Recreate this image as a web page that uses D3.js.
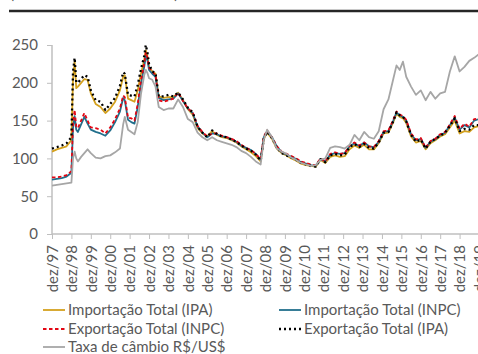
<!DOCTYPE html>
<html><head><meta charset="utf-8">
<script src="https://cdn.jsdelivr.net/npm/d3@7"></script>
<style>
html,body{margin:0;padding:0;background:#fff;overflow:hidden;}
svg{display:block;font-family:Lato, "Open Sans", sans-serif;}
</style></head>
<body>
<svg id="c" width="478" height="354"></svg>
<script>
// month index since Dec 1997
const months = [0,3,6,9,12,13,14,15,16,18,20,22,24,27,30,33,36,39,42,44,45,47,49,51,53,55,57,58,59,60,62,64,66,
  69,72,75,78,81,84,87,90,93,96,99,102,105,108,111,114,117,120,123,126,129,
  131,133,136,139,142,145,148,151,154,157,160,163,166,169,172,175,178,181,184,187,190,193,196,199,
  202,205,208,211,213,215,217,219,222,225,228,231,234,237,240,243,246,249,252,255,258,261,264];

const importacaoIPA = [109,112,114,116,124,205,228,193,195,200,205,204,186,172,168,160,166,175,190,208,210,179,177,175,190,212,230,243,235,221,215,212,182,
  180,181,181,187,177,165,158,140,133,129,136,131,128,127,124,121,116,112,108,103,96,
  126,134,126,113,107,104,100,97,93,91,90,89,98,94,102,104,102,103,112,117,114,118,112,112,
  120,133,134,148,159,155,153,147,129,121,123,112,120,124,129,132,141,150,133,136,135,141,143];

const importacaoINPC = [72,73,74,76,81,140,156,138,135,145,155,146,138,135,133,130,137,148,162,180,177,151,148,146,168,199,221,235,230,217,212,208,180,
  177,178,179,186,176,166,160,142,134,128,133,132,129,128,125,122,117,114,111,106,98,
  128,136,128,116,108,105,102,99,95,93,91,90,99,96,105,107,106,107,116,120,116,121,116,115,
  122,135,136,150,161,157,155,150,132,124,126,114,122,125,131,134,144,154,138,144,141,150,152];

const exportacaoINPC = [75,75,76,78,83,148,164,142,140,150,160,150,141,140,138,133,141,152,166,183,181,154,153,150,172,203,225,240,233,220,215,210,177,
  175,177,179,187,176,166,161,143,135,129,133,133,130,128,126,123,118,114,111,106,99,
  129,137,128,116,109,106,103,100,96,94,92,91,100,96,106,108,106,107,117,121,117,121,116,115,
  123,136,137,151,162,158,156,151,133,125,127,114,123,126,132,135,145,156,139,146,142,152,153];

const exportacaoIPA = [113,115,117,120,128,215,233,201,200,205,210,208,190,177,175,164,172,180,196,214,212,184,183,182,197,218,235,250,240,225,215,213,182,
  182,184,182,187,178,167,161,142,134,128,137,132,129,128,125,122,117,113,110,105,97,
  127,135,127,114,107,104,101,98,94,92,90,89,99,95,104,106,104,105,115,119,115,119,114,113,
  121,134,135,149,161,157,155,149,131,122,125,113,122,126,130,134,143,153,136,139,138,144,144];

const taxaCambio = [64,65,66,67,68,100,109,100,96,102,107,112,107,101,100,103,104,108,113,145,155,138,135,132,148,185,210,217,213,206,204,195,168,
  164,166,166,178,168,152,148,134,128,124,128,124,122,120,118,115,110,107,102,96,92,
  125,138,128,113,109,106,101,98,94,92,90,91,98,100,114,116,115,113,118,131,124,135,128,126,
  136,165,178,205,223,217,228,208,195,184,190,177,188,179,186,188,215,235,215,221,229,233,238];

const tickLabels = ["dez/97","dez/98","dez/99","dez/00","dez/01","dez/02","dez/03","dez/04","dez/05","dez/06","dez/07","dez/08","dez/09","dez/10","dez/11","dez/12","dez/13","dez/14","dez/15","dez/16","dez/17","dez/18","dez/19"];
const yTicks = [0,50,100,150,200,250];
const seriesNames = ["Importação Total (IPA)","Importação Total (INPC)","Exportação Total (INPC)","Exportação Total (IPA)","Taxa de câmbio R$/US$"];
const subtitle = "(Índice: média 2010=100)";

const FS = 15;
const svg = d3.select("#c");
const x = d3.scaleLinear().domain([0,264]).range([52,479]);
const y = d3.scaleLinear().domain([0,250]).range([234,45]);

const styles = [
  {color:"#d4a11e", width:1.8, dash:null},
  {color:"#216f8c", width:1.8, dash:null},
  {color:"#e30613", width:1.8, dash:"3.5,2.5"},
  {color:"#000000", width:2.3, dash:"2,3"},
  {color:"#a6a6a6", width:1.8, dash:null}
];
const data = [importacaoIPA, importacaoINPC, exportacaoINPC, exportacaoIPA, taxaCambio];

// subtitle (clipped at the top edge, as in the reference) and top rule
svg.append("text").attr("x",10).attr("y",-1).attr("font-size",FS).attr("fill","#595959").text(subtitle);
svg.append("line").attr("x1",9).attr("x2",478).attr("y1",11).attr("y2",11).attr("stroke","#262626").attr("stroke-width",2.5);

// axes
const axisColor = "#bfbfbf";
const yAxis = svg.append("g").attr("transform","translate(52,0)")
  .call(d3.axisLeft(y).tickValues(yTicks).tickSize(5).tickPadding(9).tickFormat(d3.format("d")));
const xAxis = svg.append("g").attr("transform","translate(0,234)")
  .call(d3.axisBottom(x).tickValues(d3.range(0,265,12)).tickSize(5).tickFormat((d,i)=>tickLabels[i]));
[yAxis,xAxis].forEach(a=>{
  a.select(".domain").attr("stroke",axisColor).attr("stroke-width",1.5);
  a.selectAll(".tick line").attr("stroke",axisColor);
  a.selectAll("text").attr("fill","#595959").attr("font-size",FS).attr("font-family","Lato, sans-serif");
});
yAxis.select(".domain").attr("d","M0,45V234");
xAxis.select(".domain").attr("d","M52,0H479");
xAxis.selectAll(".tick text")
  .attr("transform","rotate(-90)").attr("text-anchor","end")
  .attr("x",-11).attr("y",0).attr("dy","0.35em");

// lines
const line = d3.line().x((d,i)=>x(months[i])).y(d=>y(d));
data.forEach((s,k)=>{
  svg.append("path").datum(s).attr("d",line).attr("fill","none")
    .attr("stroke",styles[k].color).attr("stroke-width",styles[k].width)
    .attr("stroke-dasharray",styles[k].dash).attr("stroke-linejoin","round");
});

// legend
const legPos = [[43,310],[279,310],[43,329],[279,329],[43,347]];
seriesNames.forEach((n,k)=>{
  const [lx,ly] = legPos[k];
  svg.append("line").attr("x1",lx).attr("x2",lx+22).attr("y1",ly).attr("y2",ly)
    .attr("stroke",styles[k].color).attr("stroke-width",styles[k].width).attr("stroke-dasharray",styles[k].dash);
  svg.append("text").attr("x",lx+25).attr("y",ly).attr("dy","0.35em")
    .attr("font-size",FS).attr("fill","#595959").text(n);
});
</script>
</body></html>
